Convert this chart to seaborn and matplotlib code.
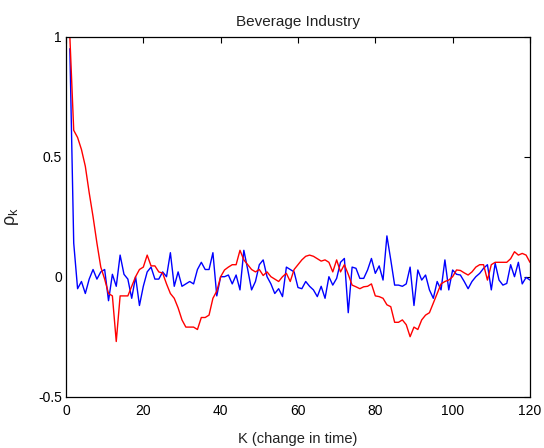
import numpy as np
import pandas as pd
import matplotlib
matplotlib.use("Agg")
import matplotlib.pyplot as plt
import seaborn as sns

# Autocorrelation by lag
lags = list(range(1, 121))

rho_blue = [
    0.95, 0.14, -0.05, -0.02, -0.07, -0.01, 0.03, -0.01, 0.02, 0.03,
    -0.10, 0.01, -0.04, 0.09, 0.01, -0.01, -0.09, 0.00, -0.12, -0.04,
    0.02, 0.04, -0.01, -0.01, 0.02, 0.00, 0.10, -0.04, 0.02, -0.04,
    -0.03, -0.02, -0.03, 0.03, 0.06, 0.03, 0.03, 0.10, -0.08, 0.00,
    0.00, 0.007, -0.03, 0.007, -0.055, 0.11, 0.03, -0.055, -0.02, 0.05,
    0.07, 0.00, -0.03, -0.07, -0.05, -0.083, 0.04, 0.03, 0.02, -0.045,
    -0.05, -0.02, -0.04, -0.055, -0.083, -0.04, -0.09, 0.00, -0.035, -0.007,
    0.06, 0.076, -0.15, 0.04, 0.035, -0.007, -0.007, 0.028, 0.076, 0.014,
    0.045, -0.014, 0.17, 0.07, -0.035, -0.035, -0.04, -0.03, 0.04, -0.12,
    0.028, -0.014, 0.007, -0.055, -0.09, -0.02, -0.055, 0.07, -0.055, 0.028,
    0.01, 0.007, -0.02, -0.05, -0.02, 0.00, 0.014, 0.035, 0.05, -0.055,
    0.056, -0.014, -0.035, -0.028, 0.05, 0.00, 0.06, -0.03, -0.003, -0.014,
]

rho_red = [
    1.00, 0.61, 0.58, 0.53, 0.46, 0.35, 0.25, 0.14, 0.04, -0.01,
    -0.07, -0.08, -0.27, -0.08, -0.08, -0.08, -0.04, 0.00, 0.03, 0.04,
    0.09, 0.045, 0.045, 0.02, 0.015, -0.03, -0.07, -0.09, -0.13, -0.18,
    -0.21, -0.21, -0.21, -0.22, -0.17, -0.17, -0.16, -0.09, -0.06, 0.00,
    0.028, 0.04, 0.05, 0.05, 0.11, 0.07, 0.05, 0.03, 0.02, 0.03,
    0.005, 0.02, 0.00, -0.01, -0.02, 0.00, 0.014, -0.02, 0.03, 0.05,
    0.07, 0.085, 0.09, 0.085, 0.075, 0.065, 0.07, 0.06, 0.02, 0.07,
    0.02, 0.05, 0.01, -0.035, -0.042, -0.05, -0.042, -0.04, -0.03, -0.08,
    -0.083, -0.09, -0.117, -0.125, -0.19, -0.19, -0.18, -0.20, -0.25, -0.21,
    -0.22, -0.18, -0.16, -0.15, -0.11, -0.07, -0.03, -0.02, -0.014, 0.00,
    0.028, 0.026, 0.016, 0.007, 0.02, 0.04, 0.05, 0.05, -0.014, 0.05,
    0.06, 0.06, 0.06, 0.06, 0.075, 0.104, 0.09, 0.097, 0.09, 0.06,
]

x_ticks = [0, 20, 40, 60, 80, 100, 120]
y_ticks = [-0.5, 0, 0.5, 1]
y_tick_labels = ["-0.5", "0", "0.5", "1"]

df = pd.DataFrame({
    "K": lags * 2,
    "rho": rho_blue + rho_red,
    "series": ["blue"] * len(lags) + ["red"] * len(lags),
})

sns.set_theme(style="white")
plt.rcParams["font.family"] = ["Liberation Sans", "DejaVu Sans"]
plt.rcParams["mathtext.fontset"] = "custom"
plt.rcParams["mathtext.rm"] = "Liberation Sans"
plt.rcParams["mathtext.it"] = "Liberation Sans"

fig = plt.figure(figsize=(5.44, 4.48), dpi=100)
ax = fig.add_axes([0.1213, 0.1145, 0.8529, 0.8036])

sns.lineplot(
    data=df, x="K", y="rho", hue="series",
    palette={"blue": "#0000ff", "red": "#ff0000"},
    linewidth=1.0, legend=False, ax=ax, estimator=None,
)

ax.set_xlim(0, 120)
ax.set_ylim(-0.5, 1)
ax.set_xticks(x_ticks)
ax.set_yticks(y_ticks)
ax.set_yticklabels(y_tick_labels)

for side in ["left", "right", "top", "bottom"]:
    ax.spines[side].set_visible(True)
    ax.spines[side].set_color("black")
    ax.spines[side].set_linewidth(0.9)

ax.tick_params(axis="both", which="both", direction="in", length=4, width=0.8,
               top=True, right=True, labelsize=10, colors="black", pad=3)
ax.tick_params(axis="x", pad=5)

ax.set_title("Beverage Industry", fontsize=11, pad=8, color="#222222")
ax.set_xlabel("K (change in time)", fontsize=10.5, labelpad=10, color="#222222")
ax.set_ylabel(r"$\rho_k$", fontsize=13, labelpad=12, color="#222222")

fig.savefig("out.png", dpi=100, facecolor="white")
